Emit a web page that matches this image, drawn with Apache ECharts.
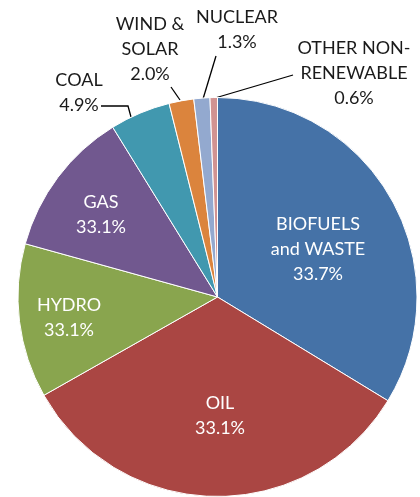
<!DOCTYPE html>
<html>
<head>
<meta charset="utf-8">
<script src="https://cdn.jsdelivr.net/npm/echarts@6/dist/echarts.min.js"></script>
<style>
  html, body { margin: 0; padding: 0; background: #fff; }
  #main { width: 420px; height: 497px; }
</style>
</head>
<body>
<div id="main"></div>
<script>
// categories (clockwise from 12 o'clock)
var names = ['BIOFUELS\nand WASTE', 'OIL', 'HYDRO', 'GAS', 'COAL', 'WIND &\nSOLAR', 'NUCLEAR', 'OTHER NON-\nRENEWABLE']
// slice sizes (%)
var values = [33.7, 33.1, 12.5, 11.9, 4.9, 2.0, 1.3, 0.6]
// percentage text as printed on the chart
var pctText = ['33.7%', '33.1%', '33.1%', '33.1%', '4.9%', '2.0%', '1.3%', '0.6%']

var colors = ['#4572A7', '#AA4643', '#89A54E', '#71588F', '#4198AF', '#DB843D', '#93A9CF', '#D19392']
var inside = [true, true, true, true, false, false, false, false]

// label centres and leader lines (layout only)
var labelPos = [
  [318, 249], [220, 416], [69, 318], [101, 215],
  [79, 93], [150, 49], [237, 30], [354, 73]
]
var linePts = [
  null, null, null, null,
  [[131, 117], [128, 106], [101, 106]],
  [[180, 100], [171, 87], [171, 87]],
  [[203, 99], [216, 56], [216, 56]],
  [[215, 98], [293, 75], [293, 75]]
]

var chart = echarts.init(document.getElementById('main'), null, { renderer: 'canvas' })

var data = names.map(function (n, i) {
  return {
    name: n,
    value: values[i],
    itemStyle: { color: colors[i] },
    label: {
      position: inside[i] ? 'inside' : 'outside',
      color: inside[i] ? '#ffffff' : '#1a1a1a'
    },
    labelLine: { show: !inside[i] }
  }
})

var option = {
  animation: false,
  series: [
    {
      type: 'pie',
      center: [217.5, 297],
      radius: [0, 199.5],
      startAngle: 90,
      clockwise: true,
      avoidLabelOverlap: false,
      itemStyle: { borderColor: '#ffffff', borderWidth: 1 },
      label: {
        fontFamily: 'Lato',
        fontSize: 18,
        lineHeight: 25,
        align: 'center',
        formatter: function (p) {
          return p.name + '\n' + pctText[p.dataIndex]
        }
      },
      labelLine: {
        lineStyle: { color: '#000000', width: 1.3 }
      },
      labelLayout: function (p) {
        var i = p.dataIndex
        var o = { x: labelPos[i][0], y: labelPos[i][1], align: 'center', verticalAlign: 'middle' }
        if (linePts[i]) o.labelLinePoints = linePts[i]
        return o
      },
      data: data
    }
  ]
}

chart.setOption(option)
</script>
</body>
</html>
